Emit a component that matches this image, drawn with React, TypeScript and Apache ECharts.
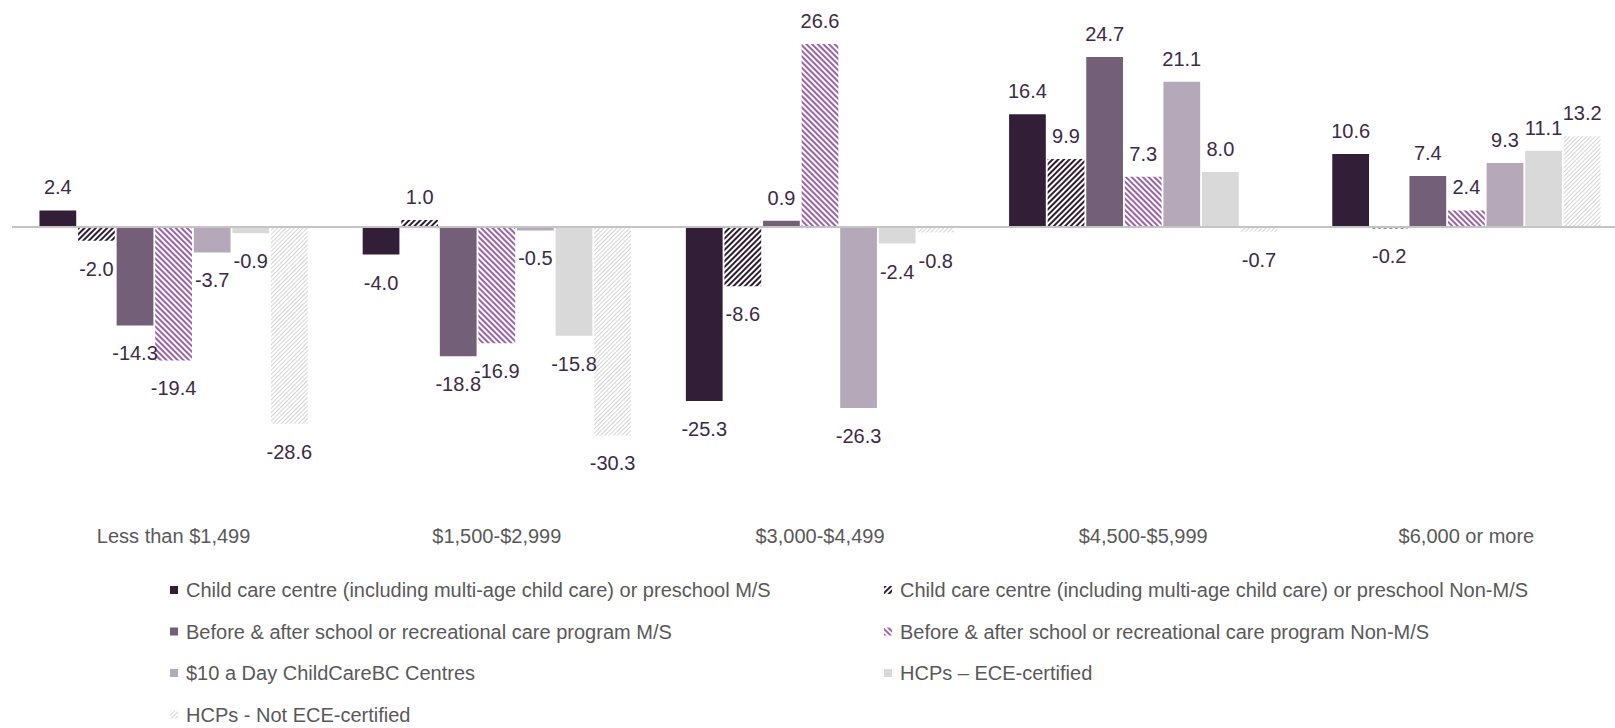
import React, { useEffect, useRef } from "react";
import * as echarts from "echarts";

const categories = ["Less than $1,499", "$1,500-$2,999", "$3,000-$4,499", "$4,500-$5,999", "$6,000 or more"];
const seriesNames = [
  "Child care centre (including multi-age child care) or preschool M/S",
  "Child care centre (including multi-age child care) or preschool Non-M/S",
  "Before & after school or recreational care program M/S",
  "Before & after school or recreational care program Non-M/S",
  "$10 a Day ChildCareBC Centres",
  "HCPs – ECE-certified",
  "HCPs - Not ECE-certified",
];
const childCareMS = [2.4, -4.0, -25.3, 16.4, 10.6];
const childCareNonMS = [-2.0, 1.0, -8.6, 9.9, -0.2];
const beforeAfterMS = [-14.3, -18.8, 0.9, 24.7, 7.4];
const beforeAfterNonMS = [-19.4, -16.9, 26.6, 7.3, 2.4];
const tenADay = [-3.7, -0.5, -26.3, 21.1, 9.3];
const hcpEce = [-0.9, -15.8, -2.4, 8.0, 11.1];
const hcpNonEce = [-28.6, -30.3, -0.8, -0.7, 13.2];

const allValues = [childCareMS, childCareNonMS, beforeAfterMS, beforeAfterNonMS, tenADay, hcpEce, hcpNonEce];

const FONT = "'Liberation Sans Narrow', 'Arial Narrow', 'Liberation Sans', Arial, sans-serif";
const FS = 20;

const solid = (c: string) => ({ color: c });
const hatched = (c: string, rot: number, dash: number[]) => ({
  color: "#ffffff",
  decal: {
    symbol: "rect",
    symbolSize: 1,
    dashArrayX: [1, 0],
    dashArrayY: dash,
    rotation: rot,
    color: c,
  },
});

const styles = [
  solid("#321f37"),
  hatched("#2e1d33", -Math.PI / 4, [2, 2]),
  solid("#735f78"),
  hatched("#9c62ac", Math.PI / 4, [2, 2]),
  solid("#b4a8b9"),
  solid("#d9d9d9"),
  hatched("#d4d4d4", -Math.PI / 4, [1, 2]),
];

const legendPos = [
  { left: 170, cy: 590 },
  { left: 884, cy: 590 },
  { left: 170, cy: 631.5 },
  { left: 884, cy: 631.5 },
  { left: 170, cy: 673 },
  { left: 884, cy: 673 },
  { left: 170, cy: 714.5 },
];

export default function App() {
  const ref = useRef<HTMLDivElement>(null);
  useEffect(() => {
    if (!ref.current) return;
    const chart = echarts.init(ref.current, null, { renderer: "svg" });
    const series = seriesNames.map((name, i) => ({
      name,
      type: "bar",
      barGap: "5%",
      barCategoryGap: "17%",
      itemStyle: styles[i],
      data: allValues[i].map((v) => ({
        value: v,
        label: {
          position: v >= 0 ? "top" : "bottom",
          distance: v >= 0 ? 13 : 18,
        },
      })),
      label: {
        show: true,
        formatter: (p: any) => Number(p.value).toFixed(1),
        color: "#3d2a47",
        fontFamily: FONT,
        fontSize: FS,
      },
      ...(i === 0
        ? {
            markLine: {
              silent: true,
              symbol: ["none", "none"],
              label: { show: false },
              lineStyle: { color: "#c4c4c4", width: 2, type: "solid" },
              data: [{ yAxis: 0 }],
            },
          }
        : {}),
    }));
    chart.setOption({
      animation: false,
      backgroundColor: "#ffffff",
      grid: { left: 12, width: 1616, top: 20.6, bottom: 225.8, containLabel: false, outerBoundsMode: "none" },
      xAxis: {
        type: "category",
        data: categories,
        axisLine: { show: false },
        axisTick: { show: false },
        axisLabel: { color: "#595959", fontFamily: FONT, fontSize: FS, margin: 24 },
      },
      yAxis: { type: "value", min: -40, max: 30, show: false, splitLine: { show: false } },
      legend: seriesNames.map((name, i) => ({
        data: [name],
        left: legendPos[i].left,
        top: legendPos[i].cy - 10,
        padding: 0,
        itemWidth: 8,
        itemHeight: 8,
        icon: "rect",
        selectedMode: false,
        textStyle: { color: "#595959", fontFamily: FONT, fontSize: FS, lineHeight: 20, padding: [0, 0, 0, 3] },
      })),
      series,
    });
    return () => chart.dispose();
  }, []);
  return <div ref={ref} style={{ position: "fixed", left: 0, top: 0, width: 1615, height: 728 }} />;
}
